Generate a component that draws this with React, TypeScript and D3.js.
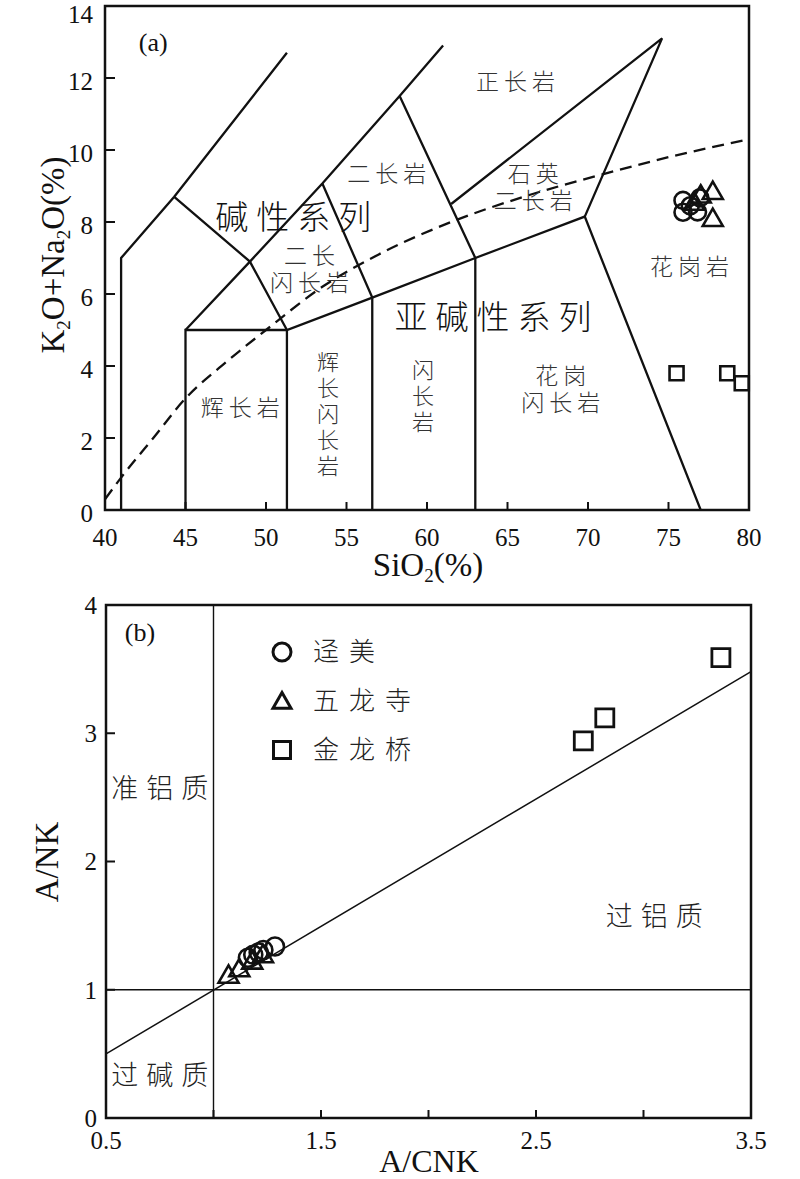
import React, { useEffect, useRef } from 'react';
import * as d3 from 'd3';

type Pt = [number, number];

// ---------- (a) TAS diagram ----------
const tasXTicks = [40, 45, 50, 55, 60, 65, 70, 75, 80];
const tasYTicks = [0, 2, 4, 6, 8, 10, 12, 14];

// field boundaries (SiO2, K2O+Na2O)
const tasFields: Pt[][] = [
  [[41, 0], [41, 7], [44.3, 8.7], [51.3, 12.7]],
  [[44.3, 8.7], [49, 6.9], [51.3, 5], [51.3, 0]],
  [[45, 0], [45, 5], [51.3, 5], [56.6, 5.9], [63, 7], [69.8, 8.15], [77, 0]],
  [[45, 5], [49, 6.9], [53.5, 9.07], [58.3, 11.5], [61, 12.9]],
  [[53.5, 9.07], [56.6, 5.9], [56.6, 0]],
  [[58.3, 11.5], [63, 7], [63, 0]],
  [[61.5, 8.5], [74.6, 13.1], [69.8, 8.15]],
];

// alkaline / subalkaline divide (dashed)
const alkalineDivide: Pt[] = [
  [40, 0.3], [41, 0.9], [43, 2.0], [45, 3.1], [47.5, 4.1], [50, 5.0], [53.5, 6.2],
  [57, 7.1], [61.5, 8.0], [66, 8.7], [70.7, 9.3], [75, 9.8], [80, 10.3],
];

const jingmeiTas: Pt[] = [[75.9, 8.6], [75.9, 8.27], [76.95, 8.67], [76.8, 8.28], [76.35, 8.45]];
const wulongsiTas: Pt[] = [[77.75, 8.8], [77.75, 8.05], [76.6, 8.5], [77.0, 8.7]];
const jinlongqiaoTas: Pt[] = [[75.5, 3.8], [78.65, 3.8], [79.55, 3.52]];

const tasLabels = [
  { lines: ['碱性系列'], x: 51.7, y: 8.14, big: true },
  { lines: ['亚碱性系列'], x: 64.1, y: 5.36, big: true },
  { lines: ['正长岩'], x: 65.5, y: 11.89 },
  { lines: ['二长岩'], x: 57.5, y: 9.33 },
  { lines: ['石英', '二长岩'], x: 66.6, y: 9.33 },
  { lines: ['二长', '闪长岩'], x: 52.7, y: 7.06 },
  { lines: ['花岗岩'], x: 76.3, y: 6.75 },
  { lines: ['辉长岩'], x: 48.4, y: 2.83 },
  { lines: ['辉', '长', '闪', '长', '岩'], x: 53.85, y: 4.11 },
  { lines: ['闪', '长', '岩'], x: 59.75, y: 3.89 },
  { lines: ['花岗', '闪长岩'], x: 68.3, y: 3.72 },
];

// ---------- (b) A/NK vs A/CNK ----------
const acnkTicks = [0.5, 1, 1.5, 2, 2.5, 3, 3.5];
const acnkLabels = [0.5, 1.5, 2.5, 3.5];
const ankTicks = [0, 1, 2, 3, 4];
const aluminaLine: Pt[] = [[0.5, 0.5], [3.5, 3.48]];

const jingmeiAl: Pt[] = [[1.286, 1.337], [1.232, 1.31], [1.185, 1.273], [1.16, 1.25], [1.21, 1.29]];
const wulongsiAl: Pt[] = [[1.07, 1.1], [1.12, 1.15], [1.18, 1.21], [1.23, 1.26]];
const jinlongqiaoAl: Pt[] = [[2.72, 2.94], [2.82, 3.12], [3.36, 3.59]];

const alLabels = [
  { text: '准铝质', x: 0.75, y: 2.57 },
  { text: '过碱质', x: 0.75, y: 0.33 },
  { text: '过铝质', x: 3.05, y: 1.57 },
];

const seriesNames = ['迳美', '五龙寺', '金龙桥'];

const SERIF = "'Liberation Serif','Times New Roman',serif";
const CJK = "'Noto Sans CJK SC','Noto Sans CJK TC',sans-serif";
const INK = '#111';

const App: React.FC = () => {
  const svgRef = useRef<SVGSVGElement>(null);

  useEffect(() => {
    if (!svgRef.current) return;
    const svg = d3.select(svgRef.current);
    svg.selectAll('*').remove();

    const marker = (g: any, kind: string, x: number, y: number, s: number, sw: number) => {
      if (kind === 'circle') {
        g.append('circle').attr('cx', x).attr('cy', y).attr('r', s / 2)
          .attr('fill', 'none').attr('stroke', INK).attr('stroke-width', sw);
      } else {
        const type = kind === 'triangle' ? d3.symbolTriangle : d3.symbolSquare;
        const area = kind === 'triangle' ? (Math.sqrt(3) / 4) * s * s : s * s;
        g.append('path').attr('d', d3.symbol().type(type).size(area)())
          .attr('transform', `translate(${x},${y})`)
          .attr('fill', 'none').attr('stroke', INK).attr('stroke-width', sw)
          .attr('stroke-linejoin', 'miter');
      }
    };

    // ===== (a) =====
    const xA = d3.scaleLinear().domain([40, 80]).range([105, 749]);
    const yA = d3.scaleLinear().domain([0, 14]).range([510, 6]);
    const gA = svg.append('g');
    const lineA = d3.line<Pt>().x(d => xA(d[0])).y(d => yA(d[1]));

    gA.selectAll('.field').data(tasFields).enter().append('path')
      .attr('d', d => lineA(d))
      .attr('fill', 'none').attr('stroke', INK).attr('stroke-width', 2.3)
      .attr('stroke-linejoin', 'miter');

    gA.append('path').datum(alkalineDivide)
      .attr('d', d3.line<Pt>().curve(d3.curveMonotoneX).x(d => xA(d[0])).y(d => yA(d[1])))
      .attr('fill', 'none').attr('stroke', INK).attr('stroke-width', 2.3)
      .attr('stroke-dasharray', '12 7');

    // field labels
    tasLabels.forEach(l => {
      const vertical = l.lines.length > 2;
      const fs = l.big ? 33 : vertical ? 22 : 23;
      const step = vertical ? 26 : 27;
      const t = gA.append('text')
        .attr('font-family', CJK).attr('font-size', fs).attr('font-weight', 300)
        .attr('fill', l.big ? INK : '#333')
        .attr('text-anchor', 'middle').attr('letter-spacing', l.big ? 8 : vertical ? 0 : 5);
      l.lines.forEach((ln, i) => {
        t.append('tspan').attr('x', xA(l.x) + (l.big ? 4 : vertical ? 0 : 2.5)).attr('y', yA(l.y) + i * step)
          .attr('dy', '0.36em').text(ln);
      });
    });

    // frame
    gA.append('rect').attr('x', xA(40)).attr('y', yA(14))
      .attr('width', xA(80) - xA(40)).attr('height', yA(0) - yA(14))
      .attr('fill', 'none').attr('stroke', INK).attr('stroke-width', 2.5);

    // inward ticks
    gA.selectAll('.xt').data(tasXTicks.slice(1, -1)).enter().append('line')
      .attr('x1', d => xA(d)).attr('x2', d => xA(d))
      .attr('y1', yA(0)).attr('y2', yA(0) - 8)
      .attr('stroke', INK).attr('stroke-width', 2);
    gA.selectAll('.yt').data(tasYTicks.slice(1, -1)).enter().append('line')
      .attr('x1', xA(40)).attr('x2', xA(40) + 10)
      .attr('y1', d => yA(d)).attr('y2', d => yA(d))
      .attr('stroke', INK).attr('stroke-width', 2);

    gA.selectAll('.xl').data(tasXTicks).enter().append('text')
      .attr('x', d => xA(d)).attr('y', 546)
      .attr('text-anchor', 'middle').attr('font-family', SERIF).attr('font-size', 25)
      .attr('fill', INK).text(d => d);
    gA.selectAll('.yl').data(tasYTicks).enter().append('text')
      .attr('x', 93).attr('y', d => Math.max(yA(d) + 3, 14))
      .attr('dy', '0.35em')
      .attr('text-anchor', 'end').attr('font-family', SERIF).attr('font-size', 25)
      .attr('fill', INK).text(d => d);

    gA.append('text').attr('x', xA(43)).attr('y', yA(13)).attr('dy', '0.35em')
      .attr('text-anchor', 'middle').attr('font-family', SERIF).attr('font-size', 26)
      .attr('fill', INK).text('(a)');

    // axis titles
    const xt = gA.append('text').attr('x', 428).attr('y', 576)
      .attr('text-anchor', 'middle').attr('font-family', SERIF).attr('font-size', 33).attr('fill', INK);
    xt.append('tspan').text('SiO');
    xt.append('tspan').attr('font-size', 19).attr('dy', 6).text('2');
    xt.append('tspan').attr('dy', -6).text('(%)');

    const yt = gA.append('text').attr('transform', 'translate(64,255) rotate(-90)')
      .attr('text-anchor', 'middle').attr('font-family', SERIF).attr('font-size', 33).attr('fill', INK);
    yt.append('tspan').text('K');
    yt.append('tspan').attr('font-size', 19).attr('dy', 6).text('2');
    yt.append('tspan').attr('dy', -6).text('O+Na');
    yt.append('tspan').attr('font-size', 19).attr('dy', 6).text('2');
    yt.append('tspan').attr('dy', -6).text('O(%)');

    // samples
    jingmeiTas.forEach(d => marker(gA, 'circle', xA(d[0]), yA(d[1]), 17, 2.6));
    wulongsiTas.forEach(d => marker(gA, 'triangle', xA(d[0]), yA(d[1]), 20, 2.6));
    jinlongqiaoTas.forEach(d => marker(gA, 'square', xA(d[0]), yA(d[1]), 14, 2.6));

    // ===== (b) =====
    const xB = d3.scaleLinear().domain([0.5, 3.5]).range([106, 751]);
    const yB = d3.scaleLinear().domain([0, 4]).range([1118, 605]);
    const gB = svg.append('g');

    gB.append('line').attr('x1', xB(1)).attr('x2', xB(1)).attr('y1', yB(0)).attr('y2', yB(4))
      .attr('stroke', INK).attr('stroke-width', 1.4);
    gB.append('line').attr('x1', xB(0.5)).attr('x2', xB(3.5)).attr('y1', yB(1)).attr('y2', yB(1))
      .attr('stroke', INK).attr('stroke-width', 1.4);
    gB.append('path').datum(aluminaLine)
      .attr('d', d3.line<Pt>().x(d => xB(d[0])).y(d => yB(d[1])))
      .attr('fill', 'none').attr('stroke', INK).attr('stroke-width', 1.5);

    gB.append('rect').attr('x', xB(0.5)).attr('y', yB(4))
      .attr('width', xB(3.5) - xB(0.5)).attr('height', yB(0) - yB(4))
      .attr('fill', 'none').attr('stroke', INK).attr('stroke-width', 2.5);

    gB.selectAll('.xt').data(acnkTicks.slice(1, -1)).enter().append('line')
      .attr('x1', d => xB(d)).attr('x2', d => xB(d))
      .attr('y1', yB(0)).attr('y2', yB(0) - 8)
      .attr('stroke', INK).attr('stroke-width', 2);
    gB.selectAll('.yt').data(ankTicks.slice(1, -1)).enter().append('line')
      .attr('x1', xB(0.5)).attr('x2', xB(0.5) + 9)
      .attr('y1', d => yB(d)).attr('y2', d => yB(d))
      .attr('stroke', INK).attr('stroke-width', 2);

    gB.selectAll('.xl').data(acnkLabels).enter().append('text')
      .attr('x', d => xB(d)).attr('y', 1149)
      .attr('text-anchor', 'middle').attr('font-family', SERIF).attr('font-size', 25)
      .attr('fill', INK).text(d => d3.format('.1f')(d));
    gB.selectAll('.yl').data(ankTicks).enter().append('text')
      .attr('x', 97).attr('y', d => yB(d)).attr('dy', '0.35em')
      .attr('text-anchor', 'end').attr('font-family', SERIF).attr('font-size', 25)
      .attr('fill', INK).text(d => d);

    gB.append('text').attr('x', 140).attr('y', 632).attr('dy', '0.35em')
      .attr('text-anchor', 'middle').attr('font-family', SERIF).attr('font-size', 26)
      .attr('fill', INK).text('(b)');

    alLabels.forEach(l => {
      gB.append('text').attr('x', xB(l.x) + 4).attr('y', yB(l.y)).attr('dy', '0.36em')
        .attr('text-anchor', 'middle').attr('font-family', CJK).attr('font-size', 27)
        .attr('font-weight', 300)
        .attr('letter-spacing', 8).attr('fill', '#222').text(l.text);
    });

    gB.append('text').attr('x', 429).attr('y', 1172)
      .attr('text-anchor', 'middle').attr('font-family', SERIF).attr('font-size', 32)
      .attr('fill', INK).text('A/CNK');
    gB.append('text').attr('transform', 'translate(58,862) rotate(-90)')
      .attr('text-anchor', 'middle').attr('font-family', SERIF).attr('font-size', 33)
      .attr('fill', INK).text('A/NK');

    jingmeiAl.forEach(d => marker(gB, 'circle', xB(d[0]), yB(d[1]), 18, 2.6));
    wulongsiAl.forEach(d => marker(gB, 'triangle', xB(d[0]), yB(d[1]), 20, 2.6));
    jinlongqiaoAl.forEach(d => marker(gB, 'square', xB(d[0]), yB(d[1]), 18, 2.8));

    // legend
    const kinds = ['circle', 'triangle', 'square'];
    seriesNames.forEach((name, i) => {
      const cy = 652 + i * 49;
      marker(gB, kinds[i], 282, cy + (kinds[i] === 'triangle' ? 2 : 0), kinds[i] === 'square' ? 17 : 18, 3);
      gB.append('text').attr('x', 313).attr('y', cy).attr('dy', '0.36em')
        .attr('font-family', CJK).attr('font-size', 26).attr('font-weight', 300)
        .attr('letter-spacing', 10)
        .attr('fill', '#222').text(name);
    });
  }, []);

  return (
    <div style={{ position: 'absolute', left: 0, top: 0, background: '#fff' }}>
      <svg ref={svgRef} width={800} height={1179} style={{ display: 'block' }} />
    </div>
  );
};

export default App;
